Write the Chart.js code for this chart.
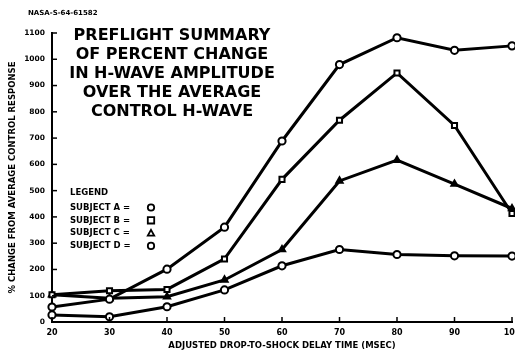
<!DOCTYPE html>
<html>
<head>
<meta charset="utf-8">
<script src="https://cdn.jsdelivr.net/npm/chart.js@4/dist/chart.umd.min.js"></script>
<style>
  html, body { margin: 0; padding: 0; background: #fff; overflow: hidden; }
</style>
</head>
<body>
<canvas id="chart" width="532" height="353"></canvas>
<script>
// delay times (msec) and percent change for each subject
const delays = [20, 30, 40, 50, 60, 70, 80, 90, 100];
const subjectA = [57, 87, 201, 361, 689, 980, 1082, 1034, 1051];
const subjectB = [104, 119, 124, 240, 543, 768, 948, 748, 413];
const subjectC = [104, 90, 96, 160, 276, 537, 616, 525, 432];
const subjectD = [27, 20, 58, 122, 214, 276, 257, 252, 251];

const titleLines = [
  "PREFLIGHT SUMMARY",
  "OF PERCENT CHANGE",
  "IN H-WAVE AMPLITUDE",
  "OVER THE AVERAGE",
  "CONTROL H-WAVE"
];
const legendRows = [
  ["SUBJECT A = ", "circle"],
  ["SUBJECT B = ", "rect"],
  ["SUBJECT C = ", "triangle"],
  ["SUBJECT D = ", "circle"]
];

const FONT = "'DejaVu Sans', sans-serif";

function series(values, style) {
  return {
    data: values.map((v, i) => ({ x: delays[i], y: v })),
    borderColor: "#000",
    borderWidth: 3,
    pointStyle: style,
    pointRadius: 3.6,
    pointBorderWidth: 2,
    pointBorderColor: "#000",
    pointBackgroundColor: style === "triangle" ? "#000" : "#fff",
    tension: 0,
    clip: false
  };
}

function marker(ctx, style, x, y, r) {
  ctx.save();
  ctx.beginPath();
  if (style === "circle") {
    ctx.arc(x, y, r, 0, Math.PI * 2);
  } else if (style === "rect") {
    ctx.rect(x - r, y - r, r * 2, r * 2);
  } else {
    ctx.moveTo(x, y - r);
    ctx.lineTo(x + r, y + r * 0.8);
    ctx.lineTo(x - r, y + r * 0.8);
    ctx.closePath();
  }
  ctx.fillStyle = "#fff";
  ctx.fill();
  ctx.lineWidth = 1.8;
  ctx.strokeStyle = "#000";
  ctx.stroke();
  ctx.restore();
}

// inward tick marks, title block, legend and the plate number
const decorations = {
  id: "decorations",
  afterDraw(chart) {
    const ctx = chart.ctx;
    const xs = chart.scales.x, ys = chart.scales.y;
    const area = chart.chartArea;
    ctx.save();
    ctx.strokeStyle = "#000";
    ctx.lineWidth = 1.5;
    ys.ticks.forEach(t => {
      const py = ys.getPixelForValue(t.value);
      ctx.beginPath();
      ctx.moveTo(area.left, py);
      ctx.lineTo(area.left + 5, py);
      ctx.stroke();
    });
    xs.ticks.forEach(t => {
      const px = xs.getPixelForValue(t.value);
      ctx.beginPath();
      ctx.moveTo(px, area.bottom);
      ctx.lineTo(px, area.bottom - 5);
      ctx.stroke();
    });

    ctx.fillStyle = "#000";
    ctx.textAlign = "center";
    ctx.textBaseline = "middle";
    ctx.font = "bold 16px " + FONT;
    titleLines.forEach((line, i) => {
      ctx.fillText(line, 172, 36 + i * 19);
    });

    ctx.textAlign = "left";
    ctx.font = "bold 8.5px " + FONT;
    ctx.fillText("LEGEND", 70, 193);
    legendRows.forEach((row, i) => {
      const y = 207.5 + i * 12.8;
      ctx.fillStyle = "#000";
      ctx.fillText(row[0], 70, y);
      marker(ctx, row[1], 151, y, 3.2);
    });

    ctx.fillStyle = "#000";
    ctx.font = "bold 7px " + FONT;
    ctx.fillText("NASA-S-64-61582", 28, 13);
    ctx.restore();
  }
};

const ctx = document.getElementById("chart").getContext("2d");
new Chart(ctx, {
  type: "line",
  data: {
    datasets: [
      series(subjectA, "circle"),
      series(subjectB, "rect"),
      series(subjectC, "triangle"),
      series(subjectD, "circle")
    ]
  },
  plugins: [decorations],
  options: {
    responsive: false,
    animation: false,
    layout: { padding: { left: 4, right: 20, top: 33, bottom: 0 } },
    plugins: {
      legend: { display: false },
      tooltip: { enabled: false }
    },
    scales: {
      x: {
        type: "linear",
        min: 20,
        max: 100,
        ticks: {
          stepSize: 10,
          padding: 6,
          color: "#000",
          font: { family: FONT, size: 8, weight: "bold" }
        },
        grid: { drawOnChartArea: false, drawTicks: false },
        border: { color: "#000", width: 2 },
        title: {
          display: true,
          text: "ADJUSTED DROP-TO-SHOCK DELAY TIME (MSEC)",
          color: "#000",
          font: { family: FONT, size: 8.5, weight: "bold" },
          padding: { top: 0, bottom: 2 }
        },
        afterFit(scale) { scale.height = 31; }
      },
      y: {
        min: 0,
        max: 1100,
        ticks: {
          stepSize: 100,
          padding: 7,
          color: "#000",
          font: { family: FONT, size: 7.5, weight: "bold" },
          callback: v => String(v)
        },
        grid: { drawOnChartArea: false, drawTicks: false },
        border: { color: "#000", width: 2 },
        title: {
          display: true,
          text: "% CHANGE FROM AVERAGE CONTROL RESPONSE",
          color: "#000",
          font: { family: FONT, size: 8.5, weight: "bold" },
          padding: { top: 4, bottom: 0 }
        },
        afterFit(scale) { scale.width = 48; }
      }
    }
  }
});
</script>
</body>
</html>
